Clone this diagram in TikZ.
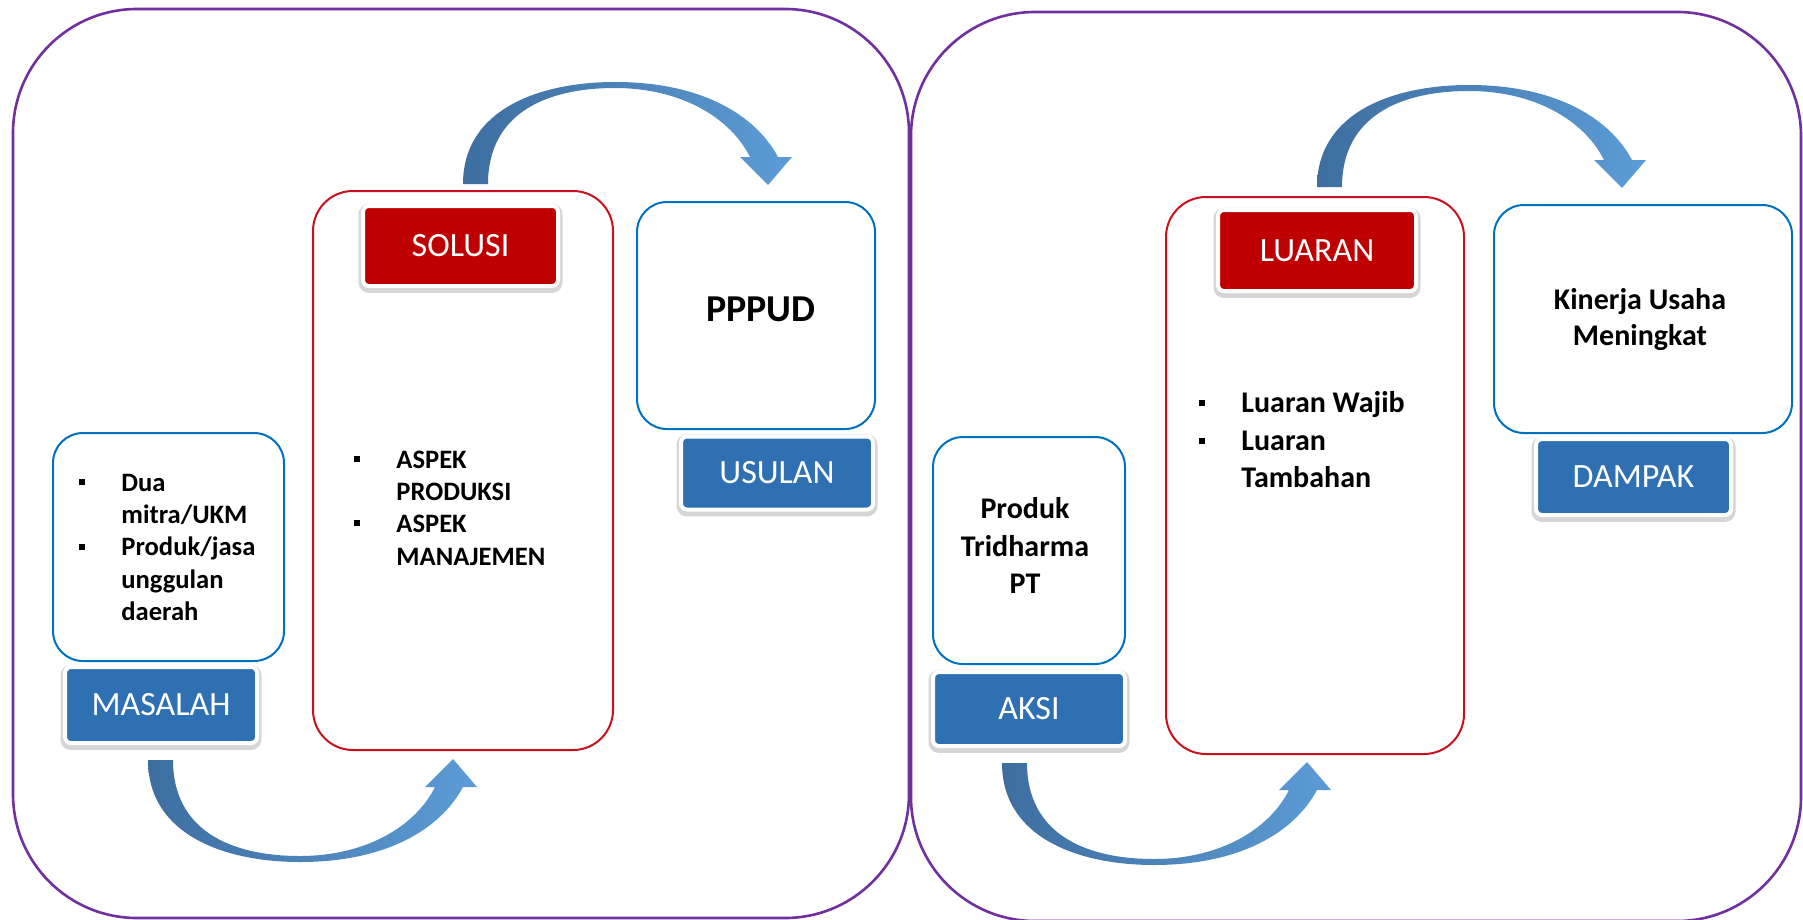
\documentclass[tikz,border=0pt]{standalone}
\usepackage{fontspec}
\setmainfont{Carlito}
\usetikzlibrary{calc,positioning}
\definecolor{panelpurple}{RGB}{112,48,160}
\definecolor{boxblue}{RGB}{0,112,192}
\definecolor{boxred}{RGB}{200,16,30}
\definecolor{tagblue}{RGB}{46,112,178}
\definecolor{tagred}{RGB}{190,0,0}
\definecolor{arrdark}{RGB}{62,110,160}
\definecolor{arrlight}{RGB}{92,156,214}
\tikzset{
  panel/.style={draw=panelpurple,line width=1.3pt,rounded corners=62pt},
  cbox/.style={draw=boxblue,line width=1pt,rounded corners=15pt,fill=white,inner sep=0pt},
  rbox/.style={draw=boxred,line width=1pt,rounded corners=20pt,fill=white,inner sep=0pt},
  tag/.style={draw=white,line width=2pt,rounded corners=3pt,inner sep=0pt,text=white,
    font=\fontsize{17}{20}\selectfont,
    preaction={draw=black!16,line width=4.5pt,transform canvas={yshift=-1.2pt}}},
  btag/.style={tag,fill=tagblue},
  rtag/.style={tag,fill=tagred},
  txt/.style={inner sep=0pt,align=left,font=\bfseries\fontsize{13.3}{16.2}\selectfont},
  bigtxt/.style={inner sep=0pt,font=\bfseries\fontsize{15}{18.75}\selectfont},
  bul/.style={fill=black,inner sep=0pt,minimum size=3pt}
}
\newcommand{\bendarrow}[2]{%
  \shade[left color=arrdark,right color=arrlight]
  ($(#1)+(-12,0)$) .. controls ($(#1)+(-12,{#2*75})$) and ($(#1)+(65,{#2*102})$) .. ($(#1)+(140,{#2*102})$)
  .. controls ($(#1)+(225,{#2*102})$) and ($(#1)+(280,{#2*70})$) .. ($(#1)+(303,{#2*27})$)
  -- ($(#1)+(317,{#2*27})$) -- ($(#1)+(293,{-(#2)})$) -- ($(#1)+(265,{#2*27})$) -- ($(#1)+(275,{#2*27})$)
  .. controls ($(#1)+(255,{#2*67})$) and ($(#1)+(205,{#2*96})$) .. ($(#1)+(140,{#2*96})$)
  .. controls ($(#1)+(70,{#2*96})$) and ($(#1)+(13,{#2*70})$) .. ($(#1)+(13,0)$) -- cycle;}

\begin{document}
\begin{tikzpicture}[x=0.5pt,y=-0.5pt,line join=round]
\fill[white] (0,0) rectangle (1803,920);
\useasboundingbox (0,0) rectangle (1803,920);
\draw[panel] (13,9) rectangle (909,918);
\draw[panel] (911,12) rectangle (1801,921);

\node[cbox,minimum width=115.5pt,minimum height=114pt] (masalah) at (168.5,547) {};
\node[btag,minimum width=96pt,minimum height=38pt] (tagmasalah) at (161,705) {MASALAH};
\node[rbox,minimum width=150pt,minimum height=279.5pt] (solusi) at (463,470.5) {};
\node[rtag,minimum width=97.5pt,minimum height=40pt] (tagsolusi) at (460.5,246) {SOLUSI};
\node[cbox,minimum width=119pt,minimum height=113.5pt] (usulan) at (756,315.5) {};
\node[btag,minimum width=96pt,minimum height=36.5pt] (tagusulan) at (777,473) {USULAN};
\node[cbox,minimum width=96pt,minimum height=113.5pt] (aksi) at (1029,550.5) {};
\node[btag,minimum width=96pt,minimum height=37pt] (tagaksi) at (1029,709) {AKSI};
\node[rbox,minimum width=149pt,minimum height=278.5pt] (luaran) at (1315,475.5) {};
\node[rtag,minimum width=99pt,minimum height=40.5pt] (tagluaran) at (1317,250.5) {LUARAN};
\node[cbox,minimum width=149pt,minimum height=114pt] (dampak) at (1643,319) {};
\node[btag,minimum width=97.5pt,minimum height=38pt] (tagdampak) at (1633.5,477) {DAMPAK};

\node[txt,anchor=north west] (tmasalah) at (121,468) {\strut Dua\\mitra/UKM\\Produk/jasa\\unggulan\\daerah};
\node[txt,anchor=north west] (tsolusi) at (396,445) {\strut ASPEK\\PRODUKSI\\ASPEK\\MANAJEMEN};
\node[inner sep=0pt,font=\bfseries\fontsize{19}{22}\selectfont] (tusulan) at (761,309) {PPPUD};
\node[bigtxt,align=center,anchor=north] (taksi) at (1025,492) {\strut Produk\\Tridharma\\PT};
\node[bigtxt,align=left,anchor=north west] (tluaran) at (1241,386) {\strut Luaran Wajib\\Luaran\\Tambahan};
\node[bigtxt,align=center,anchor=north,font=\bfseries\fontsize{15}{18}\selectfont] (tdampak) at (1640,284) {\strut Kinerja Usaha\\Meningkat};
\foreach \n/\x/\y in {m1/82/482,m2/82/547,s1/357/459,s2/357/523,l1/1202/403,l2/1202/441}
  {\node[bul] (b\n) at (\x,\y) {};}

\coordinate (a1) at ($(solusi.north)+(12,-6)$);
\coordinate (a2) at ($(tagmasalah.south)+(-1,15)$);
\coordinate (a3) at ($(luaran.north)+(14,-9)$);
\coordinate (a4) at ($(tagaksi.south)+(-15,15)$);
\bendarrow{a1}{-1}
\bendarrow{a2}{1}
\bendarrow{a3}{-1}
\bendarrow{a4}{1}
\end{tikzpicture}
\end{document}
